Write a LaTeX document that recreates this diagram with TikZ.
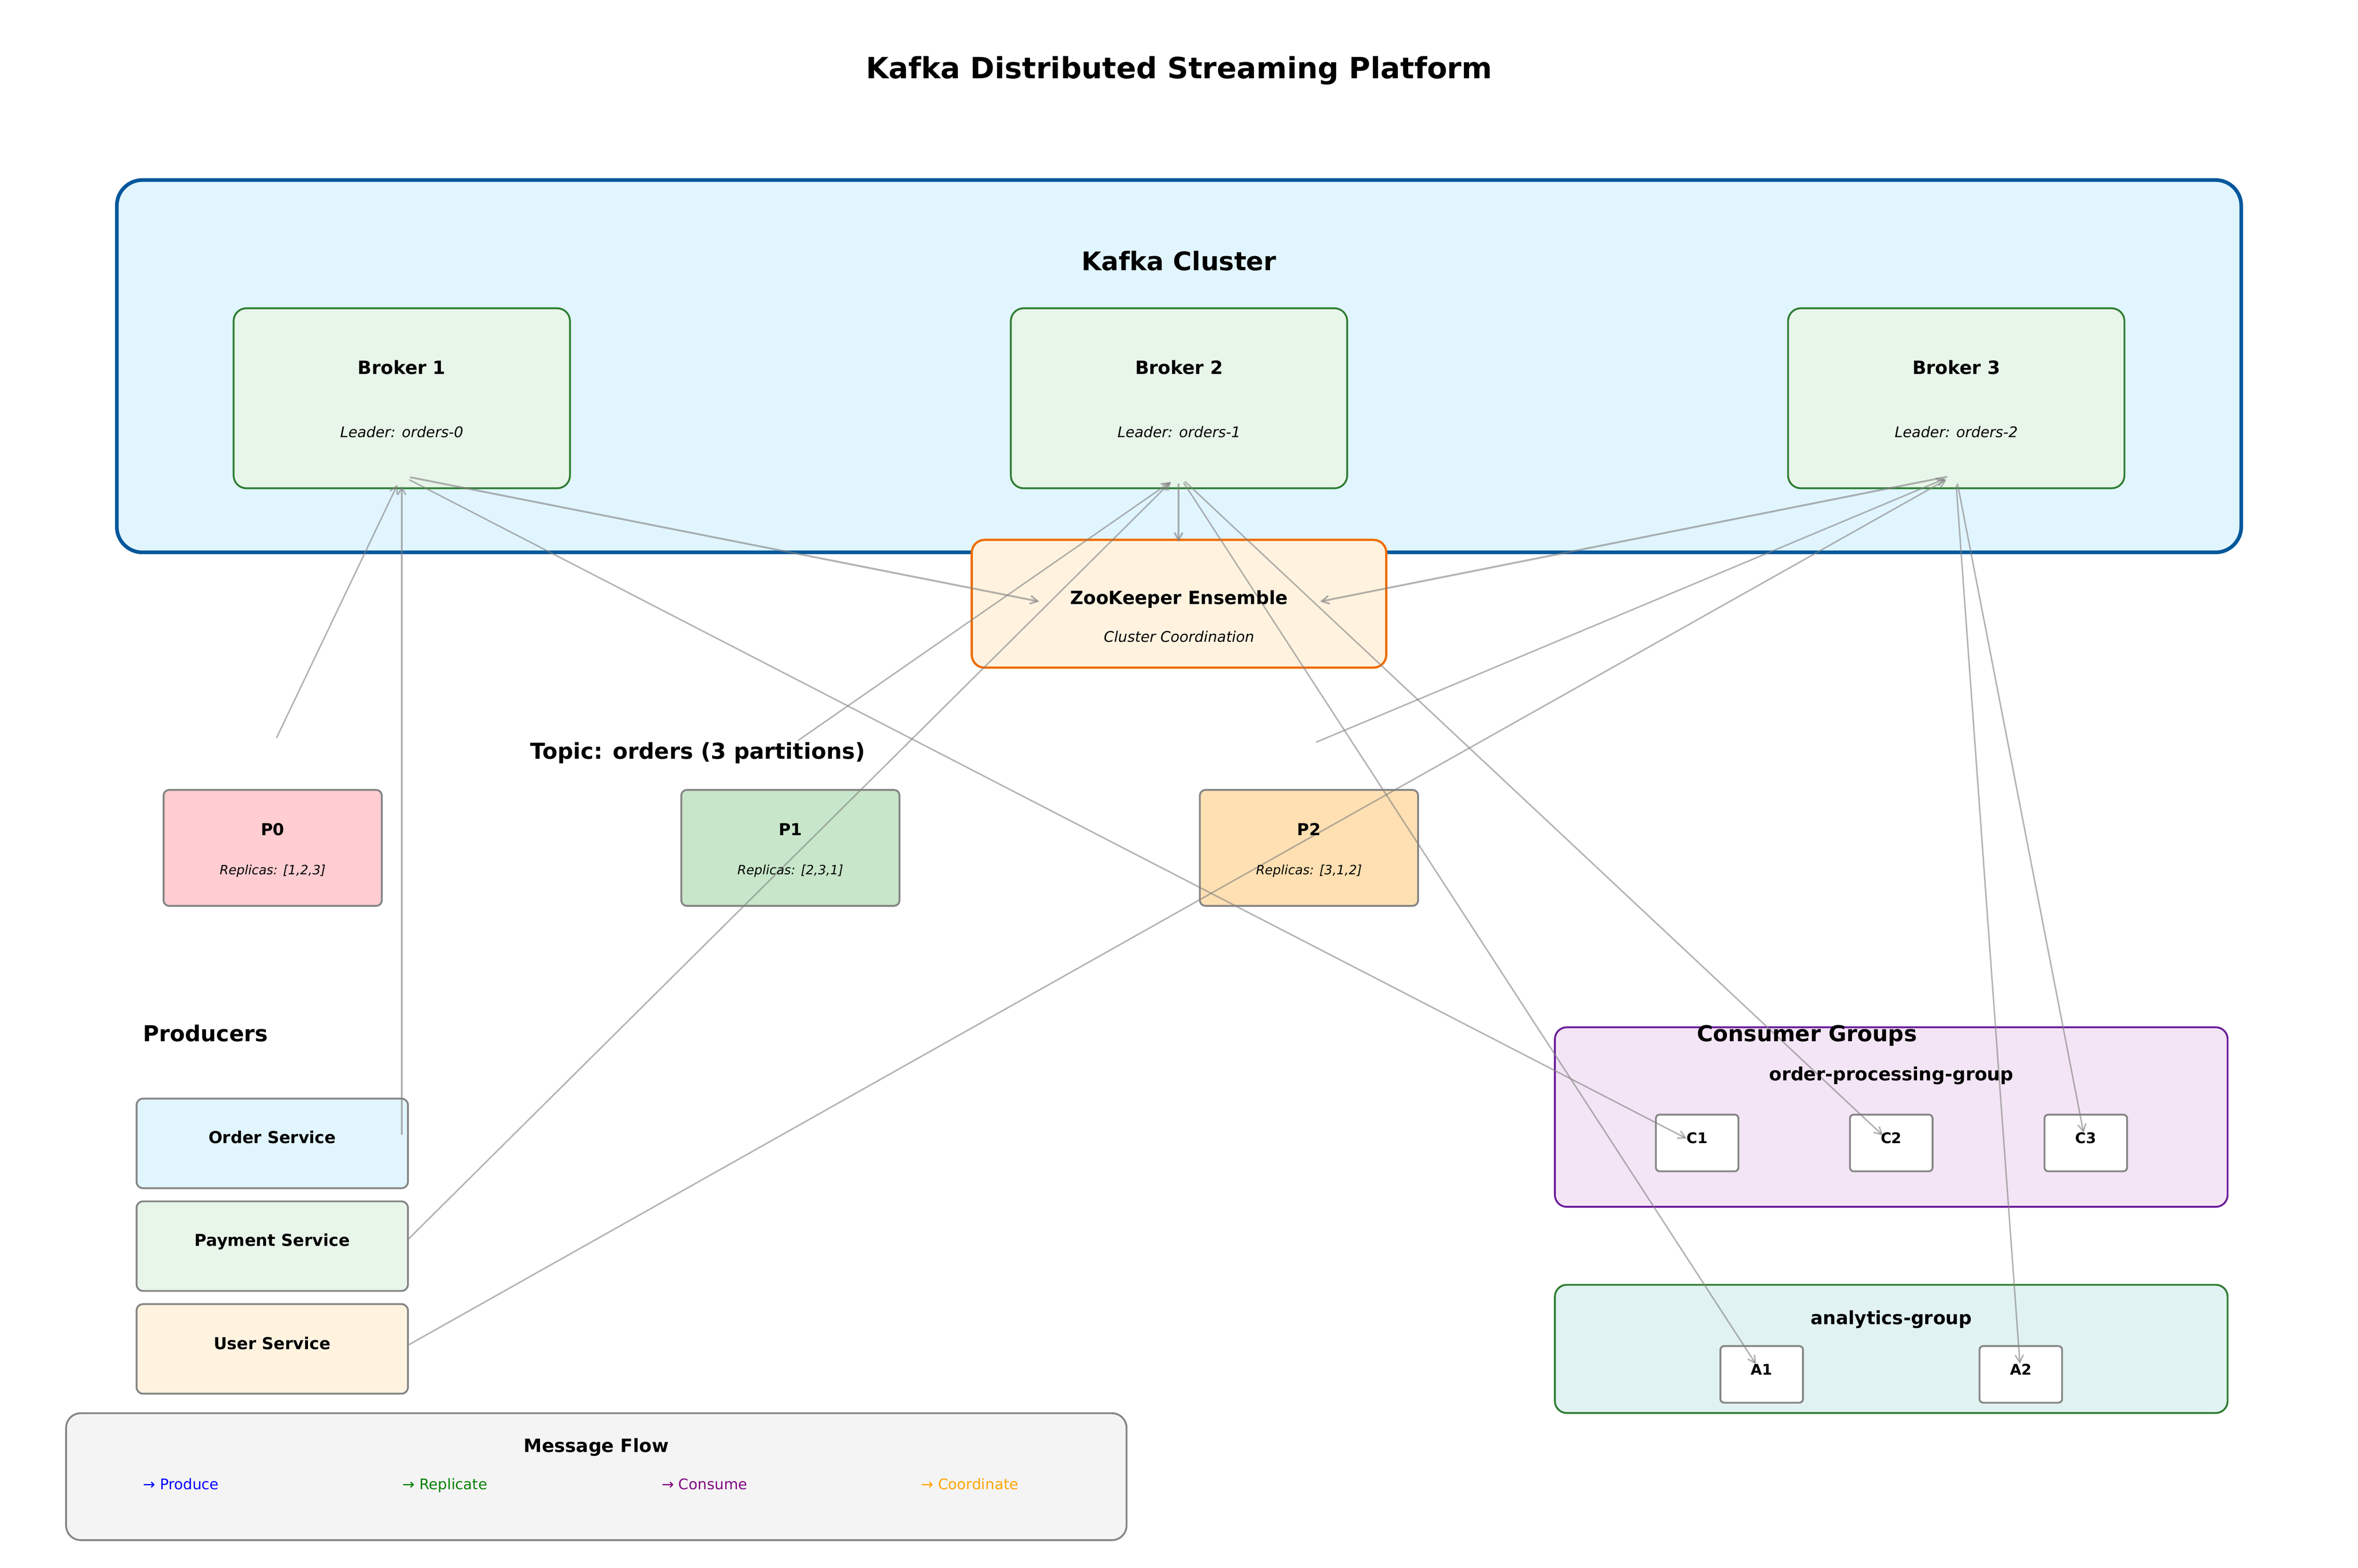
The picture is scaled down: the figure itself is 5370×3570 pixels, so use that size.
\documentclass[tikz,border=0pt]{standalone}
\usepackage{fontspec}
\setmainfont{DejaVu Sans}
\usetikzlibrary{arrows.meta}
\definecolor{clusterB}{HTML}{01579B}
\definecolor{clusterF}{HTML}{E1F5FE}
\definecolor{brokerB}{HTML}{2E7D32}
\definecolor{brokerF}{HTML}{E8F5E9}
\definecolor{zooB}{HTML}{EF6C00}
\definecolor{zooF}{HTML}{FFF3E0}
\definecolor{pzero}{HTML}{FFCDD2}
\definecolor{pone}{HTML}{C8E6C9}
\definecolor{ptwo}{HTML}{FFE0B2}
\definecolor{opgB}{HTML}{6A1B9A}
\definecolor{opgF}{HTML}{F3E5F5}
\definecolor{anaF}{HTML}{E0F2F1}
\definecolor{legF}{HTML}{F4F4F4}
\definecolor{boxgray}{HTML}{858585}
\definecolor{lgreen}{HTML}{008000}
\definecolor{lpurple}{HTML}{800080}
\definecolor{lorange}{HTML}{FFA500}
\begin{document}
\begin{tikzpicture}[x=0.24pt,y=-0.24pt,
  panel/.style 2 args={rectangle, inner sep=0pt, outer sep=0pt, minimum width=#1*0.24pt, minimum height=#2*0.24pt},
  txt/.style={inner sep=0pt, text depth=0pt},
  bold/.style={txt, font=\fontsize{#1}{#1}\selectfont\bfseries},
  ital/.style={txt, font=\fontsize{#1}{#1}\selectfont\itshape},
  plain/.style={txt, font=\fontsize{#1}{#1}\selectfont},
  brokerbox/.style={panel={766}{410}, draw=brokerB, fill=brokerF, line width=1pt, rounded corners=7pt},
  partbox/.style={panel={497}{264}, draw=boxgray, line width=1pt, rounded corners=3pt},
  prodbox/.style={panel={618}{204}, draw=boxgray, line width=1pt, rounded corners=3.5pt},
  consbox/.style={panel={188}{129}, draw=boxgray, fill=white, line width=1pt, rounded corners=2pt},
  flow/.style={draw=gray, draw opacity=0.6, line width=0.8pt, line cap=round, line join=round,
               -{Straight Barb[length=4pt,width=4.4pt]}},
  coordflow/.style={flow, line width=1pt}
]
\useasboundingbox (0,0) rectangle (5370,3570);

% ---------- boxes ----------
\node[panel={4838}{848}, draw=clusterB, fill=clusterF, line width=2pt, rounded corners=14pt] (cluster) at (2685,834) {};
\node[brokerbox] (b1) at (915,907) {};
\node[brokerbox] (b2) at (2685,907) {};
\node[brokerbox] (b3) at (4455,907) {};
\node[panel={944}{291}, draw=zooB, fill=zooF, line width=1.2pt, rounded corners=7pt] (zoo) at (2685,1375) {};

\node[partbox, fill=pzero] (p0) at (621,1931) {};
\node[partbox, fill=pone] (p1) at (1800,1931) {};
\node[partbox, fill=ptwo] (p2) at (2981,1931) {};

\node[prodbox, fill=clusterF] (ord) at (620,2604) {};
\node[prodbox, fill=brokerF] (pay) at (620,2838) {};
\node[prodbox, fill=zooF] (usr) at (620,3072) {};

\node[panel={1532}{409}, draw=opgB, fill=opgF, line width=1pt, rounded corners=6.5pt] (opg) at (4307,2544) {};
\node[consbox] (c1) at (3865,2603) {};
\node[consbox] (c2) at (4307,2603) {};
\node[consbox] (c3) at (4750,2603) {};
\node[panel={1532}{292}, draw=brokerB, fill=anaF, line width=1pt, rounded corners=6.5pt] (ana) at (4307,3072) {};
\node[consbox] (a1) at (4012,3130) {};
\node[consbox] (a2) at (4602,3130) {};

\node[panel={2415}{289}, draw=boxgray, fill=legF, line width=1pt, rounded corners=8pt] (legend) at (1358,3363) {};

% ---------- connector end points ----------
\coordinate (b1zs) at (935,1087);   \coordinate (zl) at (2367,1370);
\coordinate (b2zs) at (2684,1103);  \coordinate (zt) at (2684,1234);
\coordinate (b3zs) at (4433,1086);  \coordinate (zr) at (3006,1370);
\coordinate (ords) at (915,2583);   \coordinate (b1in) at (915,1107);
\coordinate (pays) at (931,2821);   \coordinate (b2in) at (2667,1097);
\coordinate (usrs) at (932,3062);   \coordinate (b3in) at (4433,1092);
\coordinate (p0s) at (630,1680);    \coordinate (b1rep) at (905,1104);
\coordinate (p1s) at (1818,1686);   \coordinate (b2rep) at (2665,1098);
\coordinate (p2s) at (2998,1690);   \coordinate (b3rep) at (4430,1090);
\coordinate (b1c) at (933,1093);    \coordinate (c1t) at (3841,2593);
\coordinate (b2c) at (2699,1097);   \coordinate (c2t) at (4288,2586);
\coordinate (b2a) at (2696,1100);   \coordinate (a1t) at (3999,3107);
\coordinate (b3c) at (4458,1102);   \coordinate (c3t) at (4745,2580);
\coordinate (b3a) at (4455,1106);   \coordinate (a2t) at (4600,3106);

% ---------- connectors ----------
\draw[coordflow] (b1zs) -- (zl);
\draw[coordflow] (b2zs) -- (zt);
\draw[coordflow] (b3zs) -- (zr);
\draw[flow] (ords) -- (b1in);
\draw[flow] (pays) -- (b2in);
\draw[flow] (usrs) -- (b3in);
\draw[flow] (p0s) -- (b1rep);
\draw[flow] (p1s) -- (b2rep);
\draw[flow] (p2s) -- (b3rep);
\draw[flow] (b1c) -- (c1t);
\draw[flow] (b2c) -- (c2t);
\draw[flow] (b2a) -- (a1t);
\draw[flow] (b3c) -- (c3t);
\draw[flow] (b3a) -- (a2t);

% ---------- texts ----------
\node[bold=16] (title) at (2685,154) {Kafka Distributed Streaming Platform};
\node[bold=14] (clusterT) at (2685,594) {Kafka Cluster};
\node[bold=10] (b1n) at (915,836) {Broker 1};
\node[ital=8] (b1l) at (915,983) {Leader: orders-0};
\node[bold=10] (b2n) at (2685,836) {Broker 2};
\node[ital=8] (b2l) at (2685,983) {Leader: orders-1};
\node[bold=10] (b3n) at (4455,836) {Broker 3};
\node[ital=8] (b3l) at (4455,983) {Leader: orders-2};
\node[bold=10] (zooT) at (2685,1361) {ZooKeeper Ensemble};
\node[ital=8] (zooS) at (2685,1450) {Cluster Coordination};

\node[bold=12] (topic) at (1589,1710) {Topic: orders (3 partitions)};
\node[bold=9] (p0n) at (621,1889) {P0};
\node[ital=7] (p0r) at (621,1981) {Replicas: [1,2,3]};
\node[bold=9] (p1n) at (1800,1889) {P1};
\node[ital=7] (p1r) at (1800,1981) {Replicas: [2,3,1]};
\node[bold=9] (p2n) at (2981,1889) {P2};
\node[ital=7] (p2r) at (2981,1981) {Replicas: [3,1,2]};

\node[bold=12] (prodT) at (468,2353) {Producers};
\node[bold=9] (ordT) at (620,2590) {Order Service};
\node[bold=9] (payT) at (620,2824) {Payment Service};
\node[bold=9] (usrT) at (620,3059) {User Service};

\node[bold=12] (consT) at (4115,2353) {Consumer Groups};
\node[bold=10] (opgT) at (4307,2445) {order-processing-group};
\node[bold=8] (c1T) at (3865,2592) {C1};
\node[bold=8] (c2T) at (4307,2592) {C2};
\node[bold=8] (c3T) at (4750,2592) {C3};
\node[bold=10] (anaT) at (4307,3000) {analytics-group};
\node[bold=8] (a1T) at (4012,3119) {A1};
\node[bold=8] (a2T) at (4602,3119) {A2};

\node[bold=10] (legT) at (1358,3291) {Message Flow};
\node[plain=8, anchor=west, text=blue] (lg1) at (325,3380) {→ Produce};
\node[plain=8, anchor=west, text=lgreen] (lg2) at (916,3380) {→ Replicate};
\node[plain=8, anchor=west, text=lpurple] (lg3) at (1506,3380) {→ Consume};
\node[plain=8, anchor=west, text=lorange] (lg4) at (2097,3380) {→ Coordinate};
\end{tikzpicture}
\end{document}
